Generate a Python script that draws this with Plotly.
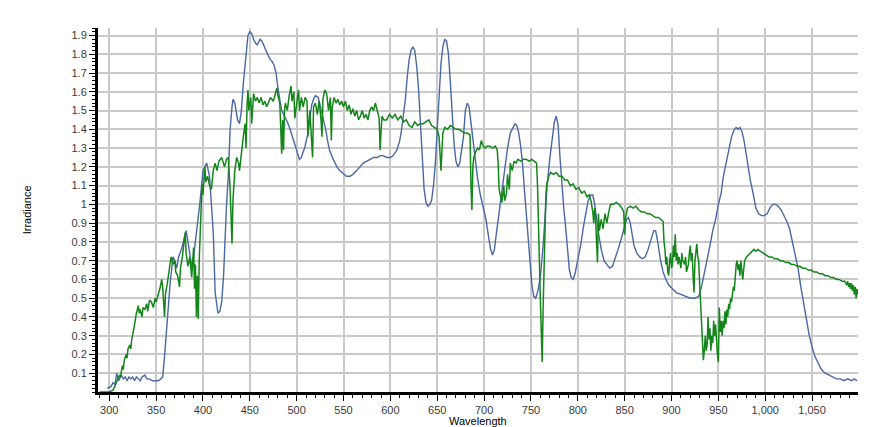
import plotly.graph_objects as go

# ---- data ----
blue_wl = [298,302,304,306,308,310,311,313,315,317,319,321,323,325,327,329,331,333,335,338,340,343,346,349,352,355,357,359,361,363,365,368,370,372,374,377,379,382,384,386,388,390,391,393,394,396,397,400,402,404,407,409,411,413,415,416,418,420,422,423,425,427,429,431,432,434,436,437,439,441,443,445,446,448,450,452,454,456,458,461,463,466,469,472,474,476,478,480,482,484,487,490,493,495,498,500,503,505,507,509,512,514,516,518,520,523,525,528,531,533,535,539,543,546,550,553,557,560,564,568,571,575,579,582,586,589,592,596,600,603,607,610,612,614,616,618,620,622,624,626,628,630,632,634,636,638,640,642,644,646,648,650,652,654,656,658,660,662,664,666,668,670,672,674,676,678,680,682,684,686,688,690,693,696,699,702,705,707,709,711,713,715,717,719,722,725,728,731,733,735,737,739,741,743,745,747,749,751,753,755,757,760,763,765,767,770,773,775,777,779,781,783,785,787,789,791,793,795,797,800,803,806,809,811,814,816,818,820,822,825,828,831,834,837,840,843,846,849,852,854,856,858,860,863,866,869,872,875,878,881,883,885,888,891,894,897,901,905,910,915,920,925,929,932,935,938,941,944,947,950,953,955,958,961,964,967,969,971,973,975,977,979,981,984,987,990,993,996,999,1002,1005,1008,1011,1014,1017,1020,1023,1026,1029,1032,1035,1038,1041,1044,1047,1050,1053,1056,1060,1064,1068,1072,1076,1080,1084,1088,1092,1095,1098]
blue_irr = [0.02,0.03,0.05,0.04,0.10,0.06,0.07,0.09,0.07,0.08,0.06,0.08,0.07,0.08,0.06,0.08,0.07,0.06,0.08,0.09,0.07,0.07,0.06,0.06,0.06,0.07,0.08,0.19,0.32,0.44,0.58,0.72,0.70,0.66,0.72,0.76,0.80,0.86,0.80,0.72,0.67,0.72,0.76,0.84,0.90,0.98,1.02,1.18,1.20,1.22,1.15,1.02,0.85,0.53,0.45,0.42,0.43,0.48,0.62,0.76,0.98,1.15,1.40,1.52,1.56,1.54,1.48,1.45,1.43,1.50,1.64,1.74,1.82,1.90,1.92,1.91,1.88,1.86,1.85,1.88,1.87,1.83,1.80,1.77,1.76,1.74,1.70,1.62,1.55,1.50,1.47,1.44,1.40,1.37,1.32,1.29,1.24,1.25,1.28,1.31,1.38,1.47,1.53,1.56,1.58,1.57,1.53,1.47,1.40,1.34,1.29,1.24,1.20,1.18,1.16,1.15,1.15,1.16,1.18,1.20,1.22,1.23,1.24,1.25,1.25,1.26,1.26,1.25,1.25,1.26,1.29,1.34,1.40,1.48,1.56,1.68,1.77,1.82,1.84,1.82,1.74,1.62,1.45,1.25,1.08,1.01,0.99,1.00,1.02,1.10,1.22,1.40,1.60,1.75,1.84,1.88,1.87,1.80,1.65,1.48,1.32,1.23,1.20,1.22,1.28,1.36,1.50,1.54,1.52,1.44,1.35,1.25,1.14,1.05,0.99,0.92,0.82,0.76,0.73,0.76,0.84,0.92,1.00,1.08,1.20,1.30,1.38,1.41,1.43,1.42,1.38,1.31,1.22,1.08,0.94,0.81,0.68,0.57,0.51,0.50,0.53,0.61,0.78,0.95,1.08,1.24,1.38,1.44,1.47,1.42,1.25,1.10,0.98,0.88,0.75,0.65,0.61,0.60,0.63,0.70,0.78,0.88,0.97,1.02,1.05,1.05,1.00,0.92,0.85,0.76,0.70,0.68,0.66,0.67,0.71,0.76,0.81,0.87,0.92,0.93,0.90,0.84,0.78,0.74,0.72,0.71,0.72,0.76,0.81,0.86,0.86,0.81,0.71,0.64,0.60,0.57,0.55,0.53,0.52,0.51,0.50,0.50,0.51,0.56,0.63,0.70,0.78,0.86,0.92,1.00,1.06,1.14,1.22,1.30,1.36,1.40,1.41,1.40,1.41,1.39,1.35,1.29,1.22,1.13,1.06,0.98,0.95,0.94,0.94,0.95,0.98,1.00,1.00,0.99,0.97,0.94,0.91,0.87,0.80,0.74,0.66,0.56,0.47,0.38,0.30,0.24,0.19,0.16,0.12,0.10,0.09,0.08,0.07,0.07,0.06,0.07,0.06,0.07,0.06]

green_wl = [290,300,304,306,309,311,312,314,315,316,318,319,320,322,323,324,326,327,329,331,332,333,335,336,338,340,341,343,345,347,349,350,352,354,356,357,359,360,362,364,366,368,370,371,373,375,376,378,379,381,382,384,386,387,388,390,391,392,393,394,395,396,397,398,399,400,402,403,405,407,409,411,413,415,417,420,422,423,425,427,429,430,431,432,434,436,438,439,441,443,445,446,447,448,449,451,452,454,456,458,460,462,464,466,468,470,472,475,477,479,480,482,484,485,486,487,488,490,492,494,495,497,498,500,502,503,505,507,509,511,512,514,516,517,518,520,522,524,526,527,528,530,532,534,536,537,538,540,542,544,546,548,550,552,554,556,558,560,562,564,566,568,570,572,574,576,578,580,582,584,586,588,589,590,591,593,596,599,602,605,608,611,614,617,620,623,626,629,632,635,638,641,644,647,650,652,654,656,658,661,664,667,670,673,676,679,682,685,686,687,688,689,691,693,695,697,699,701,703,706,709,712,714,715,716,718,719,721,722,724,725,727,728,730,732,734,736,739,742,745,748,751,754,756,757,758,759,760,761,762,763,764,765,766,767,769,771,774,777,780,783,786,789,792,795,798,801,804,807,810,812,814,816,817,818,819,820,821,822,823,825,827,829,831,833,835,838,841,844,847,849,850,851,853,856,859,862,865,868,871,874,877,880,883,886,889,891,892,893,894,895,896,897,898,899,900,901,902,903,904,905,906,907,908,910,911,912,914,915,916,918,919,920,921,922,923,924,925,926,927,928,929,930,931,932,933,934,935,936,937,938,939,940,941,942,943,944,945,946,947,948,949,950,951,952,953,954,955,956,957,958,959,960,961,962,963,964,965,966,967,968,969,970,971,972,973,974,975,976,977,978,980,982,984,986,988,990,992,995,998,1001,1004,1007,1010,1013,1016,1019,1022,1025,1028,1031,1034,1037,1040,1043,1046,1049,1052,1055,1058,1061,1064,1067,1070,1073,1076,1079,1082,1085,1087,1088,1089,1090,1091,1092,1093,1094,1095,1096,1097,1098,1099]
green_irr = [0.0,0.0,0.01,0.03,0.07,0.09,0.08,0.14,0.12,0.17,0.20,0.18,0.23,0.25,0.23,0.28,0.33,0.37,0.42,0.46,0.42,0.44,0.40,0.45,0.44,0.47,0.43,0.49,0.48,0.45,0.50,0.48,0.51,0.55,0.60,0.56,0.40,0.52,0.58,0.66,0.72,0.68,0.70,0.64,0.62,0.56,0.66,0.72,0.76,0.85,0.74,0.67,0.72,0.64,0.61,0.77,0.55,0.68,0.40,0.62,0.39,0.70,0.88,0.98,1.11,1.05,1.20,1.12,1.15,1.10,1.08,1.18,1.22,1.18,1.23,1.25,1.21,1.20,1.24,1.25,1.08,0.90,0.79,1.02,1.18,1.25,1.22,1.18,1.29,1.36,1.43,1.30,1.52,1.61,1.50,1.57,1.43,1.59,1.55,1.57,1.54,1.57,1.53,1.55,1.52,1.55,1.57,1.55,1.59,1.62,1.58,1.54,1.27,1.45,1.29,1.50,1.54,1.50,1.58,1.63,1.55,1.60,1.46,1.54,1.61,1.50,1.57,1.52,1.57,1.55,1.36,1.50,1.30,1.25,1.52,1.54,1.48,1.55,1.45,1.36,1.56,1.61,1.59,1.50,1.57,1.34,1.52,1.57,1.54,1.56,1.53,1.55,1.52,1.55,1.50,1.53,1.48,1.51,1.47,1.50,1.45,1.47,1.50,1.46,1.48,1.45,1.50,1.52,1.50,1.54,1.50,1.46,1.29,1.40,1.47,1.45,1.45,1.48,1.46,1.48,1.45,1.47,1.44,1.45,1.42,1.41,1.44,1.42,1.43,1.43,1.44,1.45,1.42,1.41,1.40,1.36,1.18,1.38,1.41,1.40,1.42,1.41,1.40,1.40,1.39,1.38,1.38,1.37,1.10,0.97,1.20,1.25,1.28,1.30,1.29,1.34,1.31,1.30,1.31,1.31,1.30,1.31,1.29,1.22,1.08,1.04,1.01,1.10,1.02,1.06,1.16,1.08,1.22,1.18,1.23,1.22,1.24,1.23,1.24,1.24,1.23,1.24,1.23,1.22,1.10,0.95,0.70,0.50,0.30,0.16,0.45,0.72,0.95,1.06,1.11,1.15,1.17,1.16,1.17,1.15,1.15,1.13,1.13,1.10,1.11,1.08,1.09,1.06,1.07,1.04,1.05,1.02,0.96,0.90,0.98,0.93,0.80,0.69,0.95,0.86,0.92,0.87,0.95,0.90,0.96,1.00,1.00,1.01,1.00,0.98,0.96,0.84,0.93,0.98,0.99,0.98,0.99,0.97,0.96,0.96,0.95,0.95,0.94,0.93,0.93,0.92,0.91,0.80,0.76,0.68,0.72,0.64,0.62,0.70,0.74,0.66,0.68,0.78,0.72,0.84,0.70,0.74,0.68,0.72,0.66,0.74,0.70,0.68,0.72,0.64,0.68,0.74,0.78,0.70,0.74,0.62,0.53,0.70,0.76,0.79,0.72,0.70,0.58,0.49,0.36,0.28,0.17,0.22,0.30,0.22,0.25,0.40,0.28,0.34,0.22,0.30,0.26,0.38,0.30,0.36,0.25,0.20,0.16,0.45,0.32,0.38,0.30,0.38,0.34,0.43,0.36,0.44,0.40,0.47,0.44,0.50,0.48,0.52,0.56,0.54,0.64,0.68,0.70,0.65,0.68,0.62,0.70,0.66,0.60,0.65,0.70,0.72,0.73,0.74,0.75,0.76,0.75,0.76,0.75,0.74,0.73,0.72,0.72,0.71,0.71,0.70,0.70,0.69,0.69,0.68,0.68,0.67,0.67,0.66,0.66,0.65,0.65,0.64,0.64,0.63,0.63,0.62,0.62,0.61,0.61,0.60,0.60,0.59,0.59,0.57,0.59,0.56,0.58,0.55,0.58,0.54,0.57,0.52,0.56,0.50,0.55,0.52]

x_ticks = [300,350,400,450,500,550,600,650,700,750,800,850,900,950,1000,1050]
x_ticktext = ["300","350","400","450","500","550","600","650","700","750","800","850","900","950","1,000","1,050"]
y_ticks = [0.1,0.2,0.3,0.4,0.5,0.6,0.7,0.8,0.9,1.0,1.1,1.2,1.3,1.4,1.5,1.6,1.7,1.8,1.9]
y_ticktext = ["0.1","0.2","0.3","0.4","0.5","0.6","0.7","0.8","0.9","1","1.1","1.2","1.3","1.4","1.5","1.6","1.7","1.8","1.9"]

BLUE = "#4a67a6"
GREEN = "#13861a"
GRID = "#c9c9c9"
FONT = "Liberation Sans, Arial, sans-serif"

fig = go.Figure()
fig.add_trace(go.Scatter(x=blue_wl, y=blue_irr, mode="lines",
                         line=dict(color=BLUE, width=1.4), showlegend=False))
fig.add_trace(go.Scatter(x=green_wl, y=green_irr, mode="lines",
                         line=dict(color=GREEN, width=1.5), showlegend=False))

fig.update_layout(
    width=886, height=427,
    margin=dict(l=98, r=28, t=28, b=35),
    paper_bgcolor="white", plot_bgcolor="white",
    font=dict(family=FONT, size=11, color="#3a3a3a"),
    xaxis=dict(range=[288, 1099], tickmode="array", tickvals=x_ticks, ticktext=x_ticktext,
               showgrid=True, gridcolor=GRID, gridwidth=1.5, zeroline=False,
               showline=True, linecolor="black", linewidth=3,
               ticks="outside", ticklen=6, tickcolor="black", tickwidth=1,
               minor=dict(tickmode="linear", tick0=300, dtick=10, ticks="outside",
                          ticklen=3, tickcolor="black", showgrid=False),
               tickfont=dict(size=11, color="#3a3a3a")),
    yaxis=dict(range=[0, 1.94], tickmode="array", tickvals=y_ticks, ticktext=y_ticktext,
               showgrid=True, gridcolor=GRID, gridwidth=1.5, zeroline=False,
               showline=True, linecolor="black", linewidth=3,
               ticks="outside", ticklen=6, tickcolor="black", tickwidth=1,
               minor=dict(tickmode="linear", tick0=0, dtick=0.02, ticks="outside",
                          ticklen=3, tickcolor="black", showgrid=False),
               tickfont=dict(size=11, color="#3a3a3a")),
    annotations=[
        dict(text="Irradiance", textangle=-90, xref="paper", yref="paper",
             x=-0.093, y=0.5, xanchor="center", yanchor="middle", showarrow=False,
             font=dict(family=FONT, size=11, color="black")),
        dict(text="Wavelength", xref="paper", yref="paper",
             x=0.5, y=-0.058, xanchor="center", yanchor="top", showarrow=False,
             font=dict(family=FONT, size=11, color="black")),
    ],
)

fig.write_html("out.html", config={"displayModeBar": False},
               post_script="document.body.style.margin='0';document.body.style.overflow='hidden';")
